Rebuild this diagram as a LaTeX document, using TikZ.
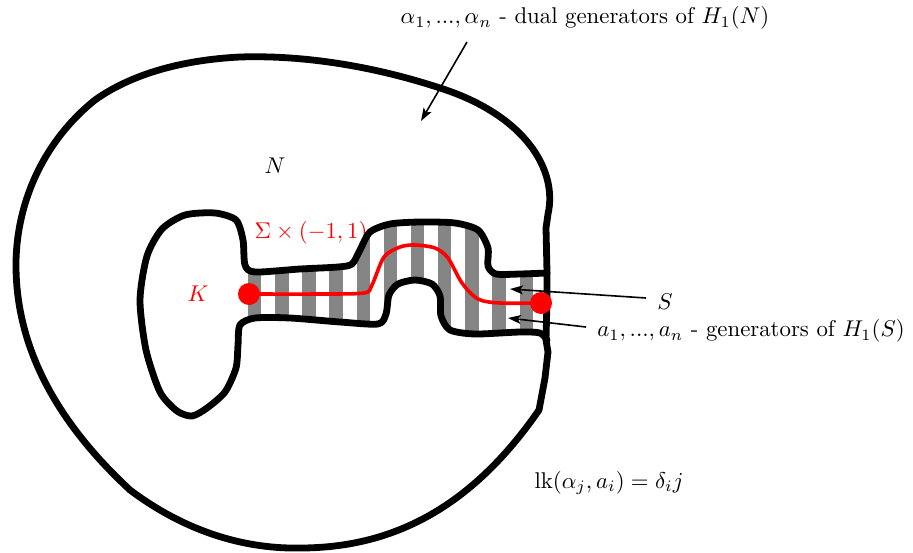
\documentclass[tikz,border=0pt]{standalone}
\usetikzlibrary{arrows.meta}
\begin{document}
\begin{tikzpicture}[x=1pt,y=-1pt,
  bound/.style={line width=6.8pt,line join=round,line cap=round},
  redline/.style={red,line width=3.6pt},
  ptr/.style={line width=1.6pt,-{Stealth[length=13pt,width=9pt,inset=3pt]}},
  lbl/.style={inner sep=0pt,scale=2.28},
  stripe/.style={fill=black!48}]
\useasboundingbox (0,0) rectangle (913,552);
% hole (inner region incl. tube)
\def\innerpath{plot[smooth,tension=0.45] coordinates {
 (547,273) (520,274) (496,274) (488,266) (488,248) (478,230) (455,223) (420,222) (390,224) (370,232) (360,250) (352,264) (338,267) (300,269) (255,272) (245,265) (243,240) (236,220) (215,213) (185,215) (162,229) (147,256) (140,300) (146,350) (160,392) (177,411) (192,416) (207,408) (225,392) (236,368) (238,345) (240,325) (255,318) (290,318) (340,322) (378,324) (386,314) (389,295) (398,284) (415,280) (432,284) (440,296) (441,316) (450,330) (475,334) (520,332) (540,333) (547,340)}}
\begin{scope}
 \clip \innerpath -- cycle;
 \foreach \k in {0,...,10} {
   \fill[stripe] (248+27.15*\k,200) rectangle (261.4+27.15*\k,360);
 }
\end{scope}
\node[lbl,red] (Sig) at (311,233) {$\Sigma\times(-1,1)$};
% outer boundary
\draw[bound] (547,272) -- (546,228) -- (548,214)
 .. controls (558,170) and (525,115) .. (440,88)
 .. controls (370,65) and (300,55) .. (240,57)
 .. controls (180,60) and (130,75) .. (95,100)
 .. controls (45,140) and (17,200) .. (16,262)
 .. controls (15,350) and (60,425) .. (130,490)
 .. controls (190,535) and (250,549) .. (300,548)
 .. controls (390,548) and (470,510) .. (539,410)
 -- (545,378) -- (548,352) -- (546,340) -- (547,300) -- cycle;
\draw[bound] \innerpath;
% red curve
\draw[redline] plot[smooth,tension=0.5] coordinates {
 (249,294) (320,294) (364,293) (372,285) (384,257) (400,247) (415,245) (435,248) (448,258) (462,283) (478,299) (500,303) (541,303)};
\fill[red] (249,294) coordinate (Kdot) circle (11);
\fill[red] (541,303) coordinate (Sdot) circle (11);
% labels
\node[lbl,red] (K) at (198,294) {$K$};
\node[lbl] (N) at (275,166) {$N$};
\node[lbl] (dual) at (585,18) {$\alpha_1,...,\alpha_n$ - dual generators of $H_1(N)$};
\node[lbl] (S) at (665,302) {$S$};
\node[lbl] (gen) at (751,331) {$a_1,...,a_n$ - generators of $H_1(S)$};
\node[lbl] (lk) at (609,483) {$\mathrm{lk}(\alpha_j,a_i)=\delta_i j$};
% arrows
\coordinate (a1s) at (467,42);
\coordinate (a1e) at (421,121);
\coordinate (a2s) at (646,298);
\coordinate (a2e) at (510,289);
\coordinate (a3s) at (586,327);
\coordinate (a3e) at (508,318);
\draw[ptr] (a1s) -- (a1e);
\draw[ptr] (a2s) -- (a2e);
\draw[ptr] (a3s) -- (a3e);
\end{tikzpicture}
\end{document}
